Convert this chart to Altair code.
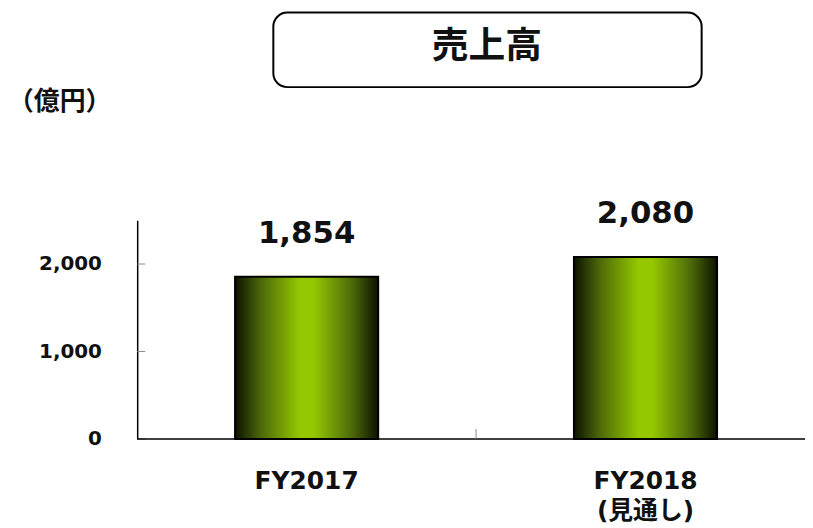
import altair as alt
import pandas as pd

categories = ["FY2017", "FY2018\n(見通し)"]
values = [1854, 2080]
value_labels = ["1,854", "2,080"]
y_ticks = [0, 1000, 2000]
title_text = "売上高"
unit_text = "（億円）"

FONT = "DejaVu Sans, Verdana, Noto Sans CJK JP, sans-serif"
CJK = "Noto Sans CJK JP, sans-serif"

df = pd.DataFrame({"cat": categories, "val": values, "lab": value_labels})
ticks_df = pd.DataFrame({"t": y_ticks})
one = pd.DataFrame({"a": [0]})

W = 672
H = 220

x = alt.X("cat:N", sort=categories, title=None,
          scale=alt.Scale(paddingInner=0, paddingOuter=0, range=[0, 682]),
          axis=alt.Axis(labelExpr="split(datum.label, '\\n')", labelAngle=0,
                        labelFont=FONT, labelFontSize=25, labelFontWeight="bold",
                        labelColor="#111111", labelPadding=30, labelLineHeight=30,
                        ticks=False, domain=False, grid=False))
y = alt.Y("val:Q", title=None,
          scale=alt.Scale(domain=[0, 2500], nice=False),
          axis=alt.Axis(values=y_ticks, format=",d", labelFont=FONT, labelFontSize=20,
                        labelFontWeight="bold", labelColor="#111111", labelPadding=36,
                        ticks=False, grid=False, domain=True, domainColor="#000000",
                        domainWidth=1.5))

grad = alt.Gradient(
    gradient="linear", x1=0, x2=1, y1=0, y2=0,
    stops=[alt.GradientStop(color="#0c1200", offset=0),
           alt.GradientStop(color="#4d680a", offset=0.18),
           alt.GradientStop(color="#94c800", offset=0.45),
           alt.GradientStop(color="#94c800", offset=0.55),
           alt.GradientStop(color="#4d680a", offset=0.82),
           alt.GradientStop(color="#0c1200", offset=1)])

bars = alt.Chart(df).mark_bar(size=144, fill=grad, stroke="#000000", strokeWidth=2).encode(x=x, y=y)

labels = alt.Chart(df).mark_text(font=FONT, fontSize=31, fontWeight="bold", baseline="alphabetic",
                                 dy=-34, color="#111111").encode(
    x=alt.X("cat:N", sort=categories), y=alt.Y("val:Q"), text="lab:N")

yticks = alt.Chart(ticks_df).mark_rule(color="#888888", strokeWidth=1).encode(
    y=alt.Y("t:Q"), x=alt.value(0), x2=alt.value(8))

xbase = alt.Chart(one).mark_rule(color="#000000", strokeWidth=1.5).encode(
    x=alt.value(0), x2=alt.value(680), y=alt.value(H))

xtick = alt.Chart(one).mark_rule(color="#888888", strokeWidth=1).encode(
    x=alt.value(341), y=alt.value(H - 10), y2=alt.value(H))

box = alt.Chart(one).mark_rect(fill="white", stroke="#000000", strokeWidth=2, cornerRadius=14).encode(
    x=alt.value(137), x2=alt.value(568), y=alt.value(-209), y2=alt.value(-134))

title = alt.Chart(one).mark_text(text=title_text, font=CJK, fontSize=37, fontWeight="bold",
                                 color="#111111", align="center", baseline="middle").encode(
    x=alt.value(352), y=alt.value(-174))

unit = alt.Chart(one).mark_text(text=unit_text, font=CJK, fontSize=26, fontWeight="bold",
                                color="#111111", align="left", baseline="middle").encode(
    x=alt.value(-130), y=alt.value(-119))

chart = alt.layer(bars, labels, yticks, xbase, xtick, box, title, unit).properties(
    width=W, height=H,
    background="white",
    autosize=alt.AutoSizeParams(type="none"),
    padding={"left": 130, "top": 212, "right": 0, "bottom": 86},
).configure_view(stroke="transparent", strokeWidth=0)

chart.save("out.html", embed_options={"renderer": "svg", "actions": False})
